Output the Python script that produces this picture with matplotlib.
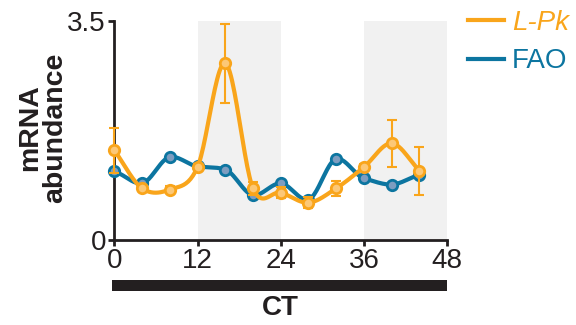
import numpy as np
import matplotlib.pyplot as plt
import matplotlib.transforms as mtransforms
from matplotlib.patches import Rectangle
from matplotlib.lines import Line2D

plt.rcParams['font.family'] = ['Liberation Sans', 'DejaVu Sans']

orange = '#F9A51B'
orange_fill = '#FCC877'
blue = '#0C75A0'
blue_fill = '#7D9DC0'
dark = '#231F20'

ct = [0, 4, 8, 12, 16, 20, 24, 28, 32, 36, 40, 44]
lpk = [1.43, 0.82, 0.80, 1.16, 2.82, 0.82, 0.75, 0.59, 0.82, 1.16, 1.54, 1.10]
lpk_err = [0.36, 0.05, 0.06, 0.05, 0.63, 0.10, 0.09, 0.09, 0.12, 0.05, 0.38, 0.38]
fao = [1.09, 0.90, 1.32, 1.17, 1.12, 0.71, 0.90, 0.64, 1.29, 0.98, 0.88, 1.03]
dark_phases = [(12, 24), (36, 48)]


def smooth(x, y, scale=1.0, n=24):
    # cubic hermite curve through the points (catmull-rom tangents)
    x = np.asarray(x, float)
    y = np.asarray(y, float)
    m = np.zeros_like(y)
    m[1:-1] = (y[2:] - y[:-2]) / 2 * scale
    m[0] = (y[1] - y[0]) * scale
    m[-1] = (y[-1] - y[-2]) * scale
    xs, ys = [], []
    t = np.linspace(0, 1, n, endpoint=False)
    for i in range(len(x) - 1):
        h00 = 2 * t**3 - 3 * t**2 + 1
        h10 = t**3 - 2 * t**2 + t
        h01 = -2 * t**3 + 3 * t**2
        h11 = t**3 - t**2
        ys.append(h00 * y[i] + h10 * m[i] + h01 * y[i + 1] + h11 * m[i + 1])
        xs.append(x[i] + t * (x[i + 1] - x[i]))
    xs.append([x[-1]])
    ys.append([y[-1]])
    return np.concatenate(xs), np.concatenate(ys)


fig = plt.figure(figsize=(5.76, 3.25), dpi=100)
ax = fig.add_axes([0.1984, 0.263, 0.578, 0.673])

for a, b in dark_phases:
    ax.axvspan(a, b, color='#F1F1F1', lw=0, zorder=0)

xs, ys = smooth(ct, fao, scale=0.6)
ax.plot(xs, ys, color=blue, lw=3, zorder=3, clip_on=False, solid_capstyle='round')
ax.plot(ct, fao, 'o', ms=7.5, mfc=blue_fill, mec=blue, mew=2, zorder=3, clip_on=False)

ax.errorbar(ct, lpk, yerr=lpk_err, fmt='none', ecolor=orange, elinewidth=1.5,
            capsize=3.5, capthick=1.5, zorder=4, clip_on=False)
xs, ys = smooth(ct, lpk, scale=1.0)
ax.plot(xs, ys, color=orange, lw=3, zorder=4, clip_on=False, solid_capstyle='round')
ax.plot(ct, lpk, 'o', ms=7.5, mfc=orange_fill, mec=orange, mew=2, zorder=4, clip_on=False)

ax.set_xlim(0, 48)
ax.set_ylim(0, 3.5)
ax.set_xticks([0, 12, 24, 36, 48])
ax.set_yticks([0, 3.5])
ax.set_yticklabels(['0', '3.5'])
ax.tick_params(labelsize=20, width=2, length=4, color=dark, labelcolor=dark, pad=2)

ax.spines['right'].set_visible(False)
ax.spines['top'].set_visible(False)
for s in ['left', 'bottom']:
    ax.spines[s].set_linewidth(2)
    ax.spines[s].set_color(dark)

# black bar under the axis
trans = mtransforms.blended_transform_factory(ax.transData, ax.transAxes)
ax.add_patch(Rectangle((-0.4, -0.235), 48.4, 0.052, transform=trans,
                       color=dark, clip_on=False, lw=0))

ax.set_xlabel('CT', fontsize=20, fontweight='bold', color=dark, labelpad=15)
ax.set_ylabel('mRNA\nabundance', fontsize=20.5, fontweight='bold', color=dark, linespacing=0.95)
ax.yaxis.set_label_coords(-0.14, 0.51)

handles = [Line2D([], [], color=orange, lw=3), Line2D([], [], color=blue, lw=3)]
leg = fig.legend(handles, ['L-Pk', 'FAO'], loc='upper left', bbox_to_anchor=(0.812, 0.97),
                 frameon=False, fontsize=20, handlelength=1.3, handletextpad=0.3,
                 labelspacing=0.45, borderpad=0, borderaxespad=0)
txts = leg.get_texts()
txts[0].set_color(orange)
txts[0].set_style('italic')
txts[1].set_color(blue)

fig.savefig('out.png', dpi=100)
